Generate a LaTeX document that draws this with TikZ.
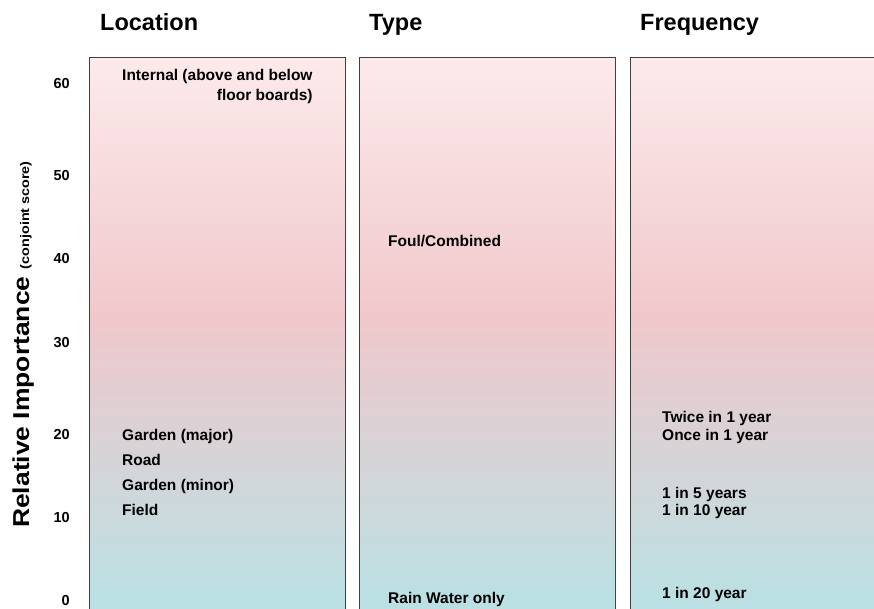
\documentclass[tikz,border=0pt]{standalone}
\usepackage{fontspec}
\setmainfont{Liberation Sans}
\usepackage{graphicx}
\usepackage{tikz}
\usetikzlibrary{positioning}

\definecolor{gradtop}{RGB}{253,234,235}
\definecolor{gradmid}{RGB}{240,200,204}
\definecolor{gradbot}{RGB}{186,224,227}
\pgfdeclareverticalshading{colshade}{100bp}{color(0bp)=(gradbot); color(27bp)=(gradbot); color(52bp)=(gradmid); color(75bp)=(gradtop); color(100bp)=(gradtop)}

\begin{document}
\begin{tikzpicture}[
  x=1pt,y=-1pt,
  colbox/.style={draw=black!75,line width=0.9pt,shading=colshade},
  title/.style={font=\fontsize{23.5}{28}\selectfont\bfseries,anchor=base west,inner sep=0pt},
  entry/.style={font=\fontsize{15.5}{18}\selectfont\bfseries,anchor=base west,inner sep=0pt},
  tick/.style={font=\fontsize{14.5}{17}\selectfont\bfseries,anchor=base east,inner sep=0pt}
  ]
  \useasboundingbox (0,0) rectangle (874,608);
  \clip (0,0) rectangle (874,608);
  % Columns
  \draw[colbox] (89,57) rectangle (345,625);
  \draw[colbox] (359,57) rectangle (615,625);
  \draw[colbox] (630,57) rectangle (890,625);
  % Titles
  \node[title] (loc) at (100,30) {Location};
  \node[title] (typ) at (369,30) {Type};
  \node[title] (freq) at (640,30) {Frequency};
  % Scale
  \foreach \v/\yb in {60/88,50/180,40/263,30/347,20/439,10/522,0/605}
    \node[tick] (t\v) at (70,\yb) {\v};
  \node[rotate=90,anchor=base west,inner sep=0pt] (ylab) at (29,528)
    {\scalebox{1.15}[1]{\fontsize{23}{27}\selectfont\bfseries Relative Importance
     \fontsize{12.5}{15}\selectfont(conjoint score)}};
  % Location
  \node[entry] (internal) at (122,80) {Internal (above and below};
  \node[entry,anchor=base east] (floor) at ([yshift=-20pt]internal.base east) {floor boards)};
  \node[entry] (gmaj) at (122,440) {Garden (major)};
  \node[entry] (road) at ([yshift=-25pt]gmaj.base west) {Road};
  \node[entry] (gmin) at ([yshift=-25pt]road.base west) {Garden (minor)};
  \node[entry] (field) at ([yshift=-25pt]gmin.base west) {Field};
  % Type
  \node[entry] (foul) at (388,246) {Foul/Combined};
  \node[entry] (rain) at (388,603.5) {Rain Water only};
  % Frequency
  \node[entry] (twice) at (662,422.5) {Twice in 1 year};
  \node[entry] (once) at ([yshift=-17.5pt]twice.base west) {Once in 1 year};
  \node[entry] (five) at (662,498) {1 in 5 years};
  \node[entry] (ten) at ([yshift=-17pt]five.base west) {1 in 10 year};
  \node[entry] (twenty) at (662,598) {1 in 20 year};
\end{tikzpicture}
\end{document}
